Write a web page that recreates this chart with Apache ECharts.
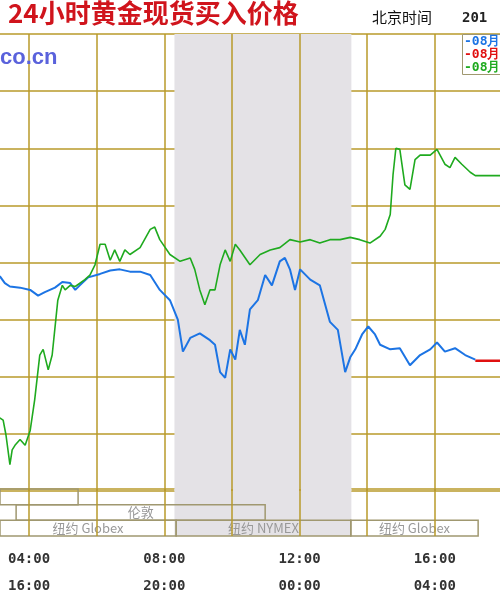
<!DOCTYPE html>
<html><head><meta charset="utf-8">
<script src="https://cdn.jsdelivr.net/npm/echarts@6/dist/echarts.min.js"></script>
<style>html,body{margin:0;padding:0;background:#fff}#c{width:500px;height:600px}</style>
</head><body><div id="c"></div>
<script>
const blueTimes = ['03:08','03:17','03:26','03:44','04:02','04:16','04:28','04:46','04:59','05:13','05:22','05:30','05:45','06:06','06:24','06:41','06:59','07:17','07:35','07:52','08:10','08:24','08:33','08:46','09:03','09:21','09:30','09:39','09:48','09:57','10:06','10:14','10:23','10:32','10:46','10:59','11:11','11:25','11:34','11:43','11:52','12:01','12:19','12:36','12:54','13:08','13:21','13:30','13:39','13:51','14:02','14:14','14:23','14:41','14:58','15:16','15:34','15:52','16:04','16:18','16:36','16:54','17:12'];
const blueValues = [898.8,898.2,897.9,897.8,897.6,897.1,897.4,897.8,898.3,898.2,897.6,898.0,898.7,899.0,899.3,899.4,899.2,899.2,898.9,897.6,896.7,895.0,892.2,893.4,893.8,893.2,892.8,890.4,889.9,892.4,891.5,894.1,892.8,895.9,896.7,898.9,898.0,900.1,900.4,899.4,897.6,899.4,898.5,898.0,894.8,894.1,890.4,891.7,892.4,893.7,894.4,893.7,892.8,892.4,892.5,891.0,891.9,892.4,893.0,892.2,892.5,891.9,891.5];
const redTimes = ['17:12','17:56'];
const redValues = [891.4,891.4];
const greenTimes = ['03:08','03:14','03:19','03:26','03:30','03:35','03:44','03:53','04:02','04:10','04:19','04:25','04:34','04:41','04:51','04:59','05:04','05:13','05:22','05:39','05:48','05:57','06:06','06:15','06:24','06:32','06:41','06:50','06:59','07:17','07:35','07:43','07:52','08:10','08:28','08:46','08:54','09:03','09:12','09:21','09:30','09:39','09:48','09:57','10:06','10:14','10:32','10:50','11:08','11:25','11:43','12:01','12:19','12:36','12:54','13:12','13:30','13:47','14:05','14:23','14:32','14:41','14:46','14:51','14:58','15:07','15:16','15:25','15:34','15:52','16:04','16:18','16:27','16:36','16:48','17:03','17:12','17:56'];
const greenValues = [886.4,886.2,884.9,882.3,883.6,884.0,884.5,884.0,885.3,888.0,891.9,892.4,890.6,891.9,896.7,898.0,897.6,898.0,897.9,898.5,898.9,899.8,901.6,901.6,900.2,901.1,900.1,901.1,900.7,901.3,902.9,903.1,902.0,900.7,900.1,900.4,899.4,897.6,896.3,897.6,897.6,899.8,901.1,900.1,901.6,901.1,899.8,900.7,901.1,901.3,902.0,901.8,902.0,901.7,902.0,902.0,902.2,902.0,901.7,902.3,902.9,904.2,907.7,910.0,909.9,906.8,906.4,909.0,909.4,909.4,909.9,908.6,908.3,909.2,908.6,907.9,907.6,907.6];
const sessions = [
  {name:'', row:0, from:'03:00', to:'05:27'},
  {name:'伦敦', row:1, from:'03:37', to:'10:59'},
  {name:'纽约 Globex', row:2, from:'03:00', to:'08:21'},
  {name:'纽约 NYMEX', row:2, from:'08:21', to:'13:31'},
  {name:'纽约 Globex', row:2, from:'13:31', to:'17:17'}
];
const shadeFrom = '08:18', shadeTo = '13:32';
const gridHours = [4,6,8,10,12,14,16];
const labelHours = [4,8,12,16];
const xMin = 3.14, xMax = 17.93;

const h = s => { const [a,b] = s.split(':').map(Number); return a + b/60; };
const pts = (t,v) => t.map((x,i)=>[h(x),v[i]]);
const gold = '#b89a2a';
const vLines = {silent:true, symbol:'none', label:{show:false}, lineStyle:{color:gold, width:1.5, type:'solid'},
  data: gridHours.map(v=>({xAxis:v}))};
const chart = echarts.init(document.getElementById('c'));
chart.setOption({
  animation:false,
  grid:[{left:0, right:0, top:34, height:457}, {left:0, right:0, top:489, height:58}],
  xAxis:[
    {gridIndex:0, type:'value', min:xMin, max:xMax, axisLabel:{show:false}, axisTick:{show:false}, axisLine:{show:false}, splitLine:{show:false}},
    {gridIndex:1, type:'value', min:xMin, max:xMax, axisTick:{show:false}, splitLine:{show:false},
     axisLine:{show:true, lineStyle:{color:gold, width:1.5}},
     axisLabel:{show:true, customValues:labelHours, margin:10, fontFamily:'DejaVu Sans Mono', fontWeight:'bold', fontSize:14, color:'#333', lineHeight:27,
      formatter:v => String(v).padStart(2,'0')+':00\n'+String((v+12)%24).padStart(2,'0')+':00'}}
  ],
  yAxis:[
    {gridIndex:0, type:'value', min:880, max:920, interval:5, axisLabel:{show:false}, axisTick:{show:false}, axisLine:{show:false},
     splitLine:{lineStyle:{color:gold, width:1.5}}},
    {gridIndex:1, type:'value', min:0, max:3, inverse:true, show:false}
  ],
  series:[
    {type:'line', xAxisIndex:0, yAxisIndex:0, data:[], silent:true, z:1,
     markArea:{silent:true, itemStyle:{color:'#e4e2e6'}, data:[[{xAxis:h(shadeFrom)},{xAxis:h(shadeTo)}]]},
     markLine:vLines},
    {type:'line', xAxisIndex:1, yAxisIndex:1, data:[], silent:true, z:1,
     markArea:{silent:true, itemStyle:{color:'#e4e2e6'}, data:[[{xAxis:h(shadeFrom)},{xAxis:h(shadeTo)}]]},
     markLine:vLines},
    {type:'line', xAxisIndex:1, yAxisIndex:1, data:[], silent:true, z:3,
     markArea:{silent:true, itemStyle:{color:'rgba(0,0,0,0)', borderColor:'#a09870', borderWidth:1.5},
       label:{position:'inside', color:'#999', fontSize:13, fontFamily:'Noto Sans CJK SC'},
       data:sessions.map(s=>[{name:s.name, xAxis:h(s.from), yAxis:s.row},{xAxis:h(s.to), yAxis:s.row+1}])}},
    {name:'blue', type:'line', data:pts(blueTimes,blueValues), showSymbol:false, lineStyle:{color:'#1c74e4', width:2}, z:5},
    {name:'red', type:'line', data:pts(redTimes,redValues), showSymbol:false, lineStyle:{color:'#e01010', width:2.5}, z:5},
    {name:'green', type:'line', data:pts(greenTimes,greenValues), showSymbol:false, lineStyle:{color:'#1faa1f', width:1.6}, z:6}
  ],
  graphic:[
    {type:'text', left:8, top:0, style:{text:'24小时黄金现货买入价格', fill:'#d0141c', font:'bold 26px "Noto Sans CJK SC"'}},
    {type:'text', left:372, top:10, style:{text:'北京时间', fill:'#111', font:'15px "Noto Sans CJK SC"'}},
    {type:'text', left:462, top:11, style:{text:'201', fill:'#222', font:'bold 14px "DejaVu Sans Mono"'}},
    {type:'text', left:0, top:47, z:10, style:{text:'co.cn', fill:'#5a62dc', font:'bold 22px "Liberation Sans"'}},
    {type:'rect', left:462, top:34, z:10, shape:{width:40, height:40}, style:{fill:'#fff', stroke:'#a09870', lineWidth:1}},
    {type:'text', left:464, top:35, z:11, style:{text:'-08月', fill:'#1c74e4', font:'bold 13px "DejaVu Sans Mono"'}},
    {type:'text', left:464, top:48, z:11, style:{text:'-08月', fill:'#e01010', font:'bold 13px "DejaVu Sans Mono"'}},
    {type:'text', left:464, top:61, z:11, style:{text:'-08月', fill:'#1faa1f', font:'bold 13px "DejaVu Sans Mono"'}}
  ]
});
</script></body></html>
